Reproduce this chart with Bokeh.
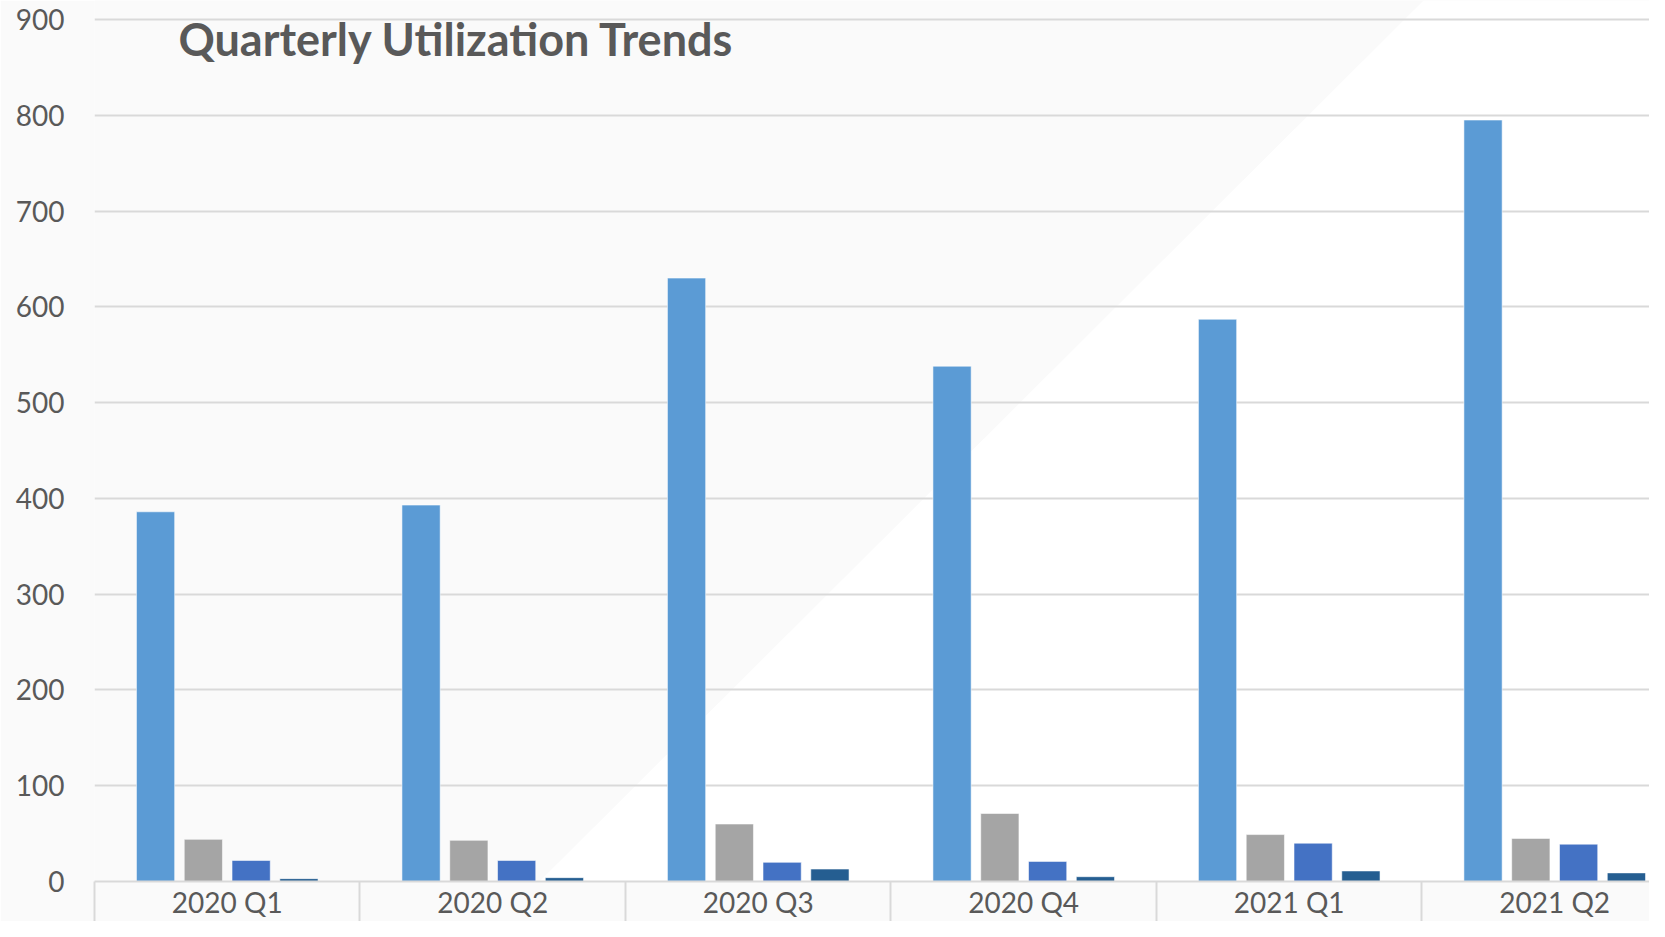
from bokeh.plotting import figure
from bokeh.models import (ColumnDataSource, Range1d, FixedTicker, Label,
                          PolyAnnotation)
from bokeh.transform import dodge
from bokeh.embed import file_html
from bokeh.resources import INLINE

# ---- data ----
categories = ["2020 Q1", "2020 Q2", "2020 Q3", "2020 Q4", "2021 Q1", "2021 Q2"]
series_names = ["Series 1", "Series 2", "Series 3", "Series 4"]
series_1 = [386, 393, 630, 538, 587, 795]
series_2 = [44, 43, 60, 71, 49, 45]
series_3 = [22, 22, 20, 21, 40, 39]
series_4 = [3, 4, 13, 5, 11, 9]
y_ticks = [0, 100, 200, 300, 400, 500, 600, 700, 800, 900]
title_text = "Quarterly Utilization Trends"

colors = ["#5B9BD5", "#A5A5A5", "#4472C4", "#255E91"]
offsets = [-0.27, -0.09, 0.09, 0.27]
FONT = "Lato"
TXT = "#595959"
GRID = "#d9d9d9"

centers = [i + 0.5 for i in range(len(categories))]
bounds = [float(i) for i in range(len(categories) + 1)]

source = ColumnDataSource(dict(
    x=centers, s1=series_1, s2=series_2, s3=series_3, s4=series_4,
))

p = figure(width=1649, height=921, output_backend="svg", toolbar_location=None,
           x_range=Range1d(0, 5.857), y_range=Range1d(0, 919.8),
           min_border_left=94, min_border_right=0, min_border_top=0,
           min_border_bottom=0)

p.background_fill_color = "#fafafa"
p.border_fill_color = "#fafafa"
p.outline_line_color = None

# diagonal white area (background decoration, behind the grid)
p.add_layout(PolyAnnotation(xs=[5.006, 6.5, 6.5, 1.676], ys=[919.8, 919.8, 0, 0],
                            fill_color="white", fill_alpha=1.0,
                            line_color=None, level="image"))

for col, name, c, off in zip(["s1", "s2", "s3", "s4"], series_names, colors, offsets):
    p.vbar(x=dodge("x", off, range=p.x_range), top=col, width=0.144,
           source=source, fill_color=c, line_color="white", line_alpha=0.55,
           line_width=1, name=name)

# x axis
xa = p.xaxis[0]
xa.ticker = FixedTicker(ticks=centers, minor_ticks=bounds)
xa.major_label_overrides = {c: lab for c, lab in zip(centers, categories)}
xa.major_tick_line_color = None
xa.major_tick_out = 0
xa.major_tick_in = 0
xa.minor_tick_in = 0
xa.minor_tick_out = 45
xa.minor_tick_line_color = GRID
xa.minor_tick_line_width = 2
xa.axis_line_color = GRID
xa.axis_line_width = 2
xa.major_label_text_font = FONT
xa.major_label_text_font_size = "28px"
xa.major_label_text_color = TXT
xa.major_label_standoff = -42

# y axis
ya = p.yaxis[0]
ya.ticker = FixedTicker(ticks=y_ticks)
ya.axis_line_color = None
ya.major_tick_line_color = None
ya.major_tick_out = 0
ya.major_tick_in = 0
ya.minor_tick_line_color = None
ya.major_label_text_font = FONT
ya.major_label_text_font_size = "28px"
ya.major_label_text_color = TXT
ya.major_label_standoff = 30

p.xgrid.grid_line_color = None
p.ygrid.grid_line_color = GRID
p.ygrid.grid_line_width = 2

p.add_layout(Label(x=0.316, y=880, text=title_text, text_font=FONT,
                   text_font_style="bold", text_font_size="45px",
                   text_color=TXT, text_baseline="middle", text_align="left"))

open("out.html", "w").write(file_html(p, INLINE))
